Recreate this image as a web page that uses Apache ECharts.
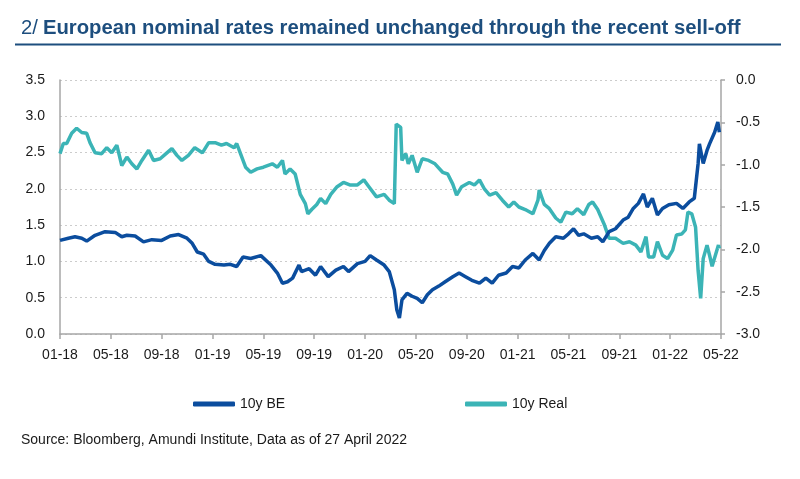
<!DOCTYPE html>
<html>
<head>
<meta charset="utf-8">
<script src="https://cdn.jsdelivr.net/npm/echarts@6/dist/echarts.min.js"></script>
<style>
html,body{margin:0;padding:0;background:#fff;}
#chart{width:800px;height:479px;}
</style>
</head>
<body>
<div id="chart"></div>
<script>
// x values = months since Jan 2018
var xTickLabels = ['01-18','05-18','09-18','01-19','05-19','09-19','01-20','05-20','09-20','01-21','05-21','09-21','01-22','05-22'];

var beMonths = [0,0.66,1.18,1.71,2.1,2.76,3.55,4.34,4.86,5.26,5.91,6.57,7.23,8.0,8.67,9.33,9.99,10.4,10.8,11.3,11.7,12.2,12.9,13.4,13.9,14.4,15.0,15.8,16.6,17.1,17.5,17.9,18.3,18.8,19.0,19.6,20.1,20.5,21.1,21.7,22.3,22.7,23.4,24.0,24.4,24.9,25.5,25.9,26.3,26.5,26.7,26.9,27.3,27.7,28.1,28.5,28.9,29.3,29.8,30.3,30.9,31.4,31.9,32.4,33.0,33.5,34.0,34.5,35.1,35.6,36.1,36.6,37.2,37.7,38.1,38.5,39.0,39.6,40.0,40.4,40.8,41.2,41.8,42.3,42.7,43.2,43.7,44.3,44.7,45.1,45.5,45.9,46.2,46.6,47.0,47.4,47.9,48.5,49.0,49.5,49.9,50.2,50.3,50.6,50.9,51.1,51.5,51.75,51.87];
var beValues = [1.29,1.32,1.34,1.32,1.28,1.36,1.41,1.40,1.34,1.36,1.35,1.27,1.30,1.29,1.35,1.37,1.32,1.25,1.13,1.10,1.00,0.96,0.95,0.96,0.93,1.06,1.04,1.08,0.95,0.84,0.70,0.72,0.77,0.95,0.86,0.90,0.81,0.93,0.79,0.88,0.93,0.86,0.97,1.00,1.08,1.02,0.95,0.86,0.61,0.33,0.22,0.47,0.56,0.52,0.49,0.43,0.54,0.61,0.66,0.72,0.79,0.84,0.79,0.74,0.70,0.77,0.70,0.81,0.84,0.93,0.91,1.02,1.11,1.02,1.15,1.25,1.34,1.32,1.38,1.45,1.36,1.38,1.32,1.34,1.27,1.41,1.45,1.57,1.61,1.73,1.80,1.93,1.75,1.87,1.64,1.73,1.78,1.80,1.73,1.82,1.87,2.35,2.62,2.35,2.53,2.62,2.78,2.92,2.78];

var realMonths = [0,0.26,0.53,0.92,1.31,1.71,2.1,2.36,2.76,3.28,3.68,4.07,4.47,4.86,5.26,5.65,6.05,6.44,6.97,7.36,7.88,8.41,8.8,9.2,9.59,10.1,10.6,11.2,11.7,12.2,12.7,13.1,13.7,13.9,14.2,14.6,15.0,15.5,16.0,16.7,17.1,17.5,17.7,18.1,18.5,18.9,19.3,19.5,19.8,20.2,20.5,20.9,21.3,21.8,22.3,22.8,23.4,23.9,24.3,24.9,25.5,25.9,26.3,26.45,26.8,26.9,27.2,27.4,27.7,28.1,28.5,29.0,29.5,30.1,30.5,30.9,31.2,31.6,32.2,32.6,33.0,33.4,33.8,34.3,34.8,35.3,35.7,36.1,36.6,37.2,37.6,37.7,38.1,38.5,39.0,39.4,39.8,40.3,40.7,41.2,41.6,41.9,42.3,42.8,43.2,43.7,44.3,44.8,45.3,45.7,46.1,46.3,46.7,47.0,47.4,47.8,48.2,48.5,48.9,49.2,49.4,49.7,50.0,50.2,50.4,50.6,50.9,51.1,51.3,51.6,51.8,51.87];
var realValues = [-0.87,-0.75,-0.75,-0.63,-0.57,-0.62,-0.63,-0.74,-0.86,-0.87,-0.80,-0.86,-0.77,-1.01,-0.91,-0.99,-1.05,-0.95,-0.83,-0.95,-0.93,-0.86,-0.81,-0.89,-0.95,-0.89,-0.80,-0.86,-0.74,-0.74,-0.77,-0.75,-0.80,-0.75,-0.87,-1.03,-1.09,-1.05,-1.03,-0.99,-1.03,-0.95,-1.11,-1.05,-1.11,-1.35,-1.46,-1.58,-1.53,-1.47,-1.40,-1.46,-1.35,-1.26,-1.21,-1.24,-1.24,-1.18,-1.26,-1.38,-1.35,-1.42,-1.46,-0.52,-0.56,-0.95,-0.87,-0.99,-0.89,-1.09,-0.93,-0.95,-0.99,-1.09,-1.11,-1.23,-1.36,-1.26,-1.21,-1.24,-1.18,-1.29,-1.36,-1.33,-1.42,-1.50,-1.44,-1.50,-1.53,-1.58,-1.42,-1.30,-1.47,-1.52,-1.63,-1.68,-1.56,-1.58,-1.52,-1.59,-1.47,-1.44,-1.53,-1.70,-1.87,-1.87,-1.93,-1.91,-1.95,-2.03,-1.85,-2.09,-2.09,-1.91,-2.07,-2.11,-2.01,-1.83,-1.82,-1.77,-1.56,-1.58,-1.74,-2.25,-2.58,-2.11,-1.95,-2.07,-2.20,-2.05,-1.95,-1.99];

var seriesNames = ['10y BE','10y Real'];
var titlePrefix = '2/';
var titleText = 'European nominal rates remained unchanged through the recent sell-off';
var sourceText = 'Source: Bloomberg, Amundi Institute, Data as of 27 April 2022';

function zip(a,b){ return a.map(function(v,i){ return [v,b[i]]; }); }

var FONT = '"Liberation Sans", Arial, sans-serif';
var BLUE = '#0b4d9e';
var TEAL = '#3bb4b6';
var NAVY = '#1d4e7e';

var chart = echarts.init(document.getElementById('chart'), null, {renderer:'canvas'});
chart.setOption({
  backgroundColor:'#ffffff',
  animation:false,
  title:{
    left:16, top:13,
    text:'{a|' + titlePrefix + '} {b|' + titleText + '}',
    textStyle:{
      rich:{
        a:{fontFamily:FONT, fontSize:20.3, fontWeight:'normal', color:NAVY},
        b:{fontFamily:FONT, fontSize:20.3, fontWeight:'bold', color:NAVY}
      }
    }
  },
  graphic:[
    {type:'line', shape:{x1:15, y1:44.5, x2:781, y2:44.5}, style:{stroke:NAVY, lineWidth:2}},
    {type:'text', left:21, top:433, style:{text:sourceText, font:'14px ' + FONT, fill:'#1a1a1a'}}
  ],
  legend:[
    {data:[seriesNames[0]], left:188, top:392, icon:'roundRect', itemWidth:42, itemHeight:5, itemGap:5,
     textStyle:{fontFamily:FONT, fontSize:14, color:'#1a1a1a'}},
    {data:[seriesNames[1]], left:460, top:392, icon:'roundRect', itemWidth:42, itemHeight:5, itemGap:5,
     textStyle:{fontFamily:FONT, fontSize:14, color:'#1a1a1a'}}
  ],
  grid:{left:60, right:79, top:80, bottom:145, containLabel:false},
  xAxis:{
    type:'value', min:0, max:52, interval:4,
    axisLine:{show:true, lineStyle:{color:'#a6a6a6', width:1.5}},
    axisTick:{show:true, length:5, lineStyle:{color:'#a6a6a6', width:1.5}},
    splitLine:{show:false},
    axisLabel:{
      margin:14, fontFamily:FONT, fontSize:14, color:'#1a1a1a',
      formatter:function(v){ return xTickLabels[Math.round(v/4)] || ''; }
    }
  },
  yAxis:[
    {type:'value', min:0, max:3.5, interval:0.5, position:'left',
     axisLine:{show:true, lineStyle:{color:'#a6a6a6', width:1.5}},
     axisTick:{show:false},
     splitLine:{show:true, lineStyle:{color:'#cccccc', type:[2,3], width:1}},
     axisLabel:{margin:15, fontFamily:FONT, fontSize:14, color:'#1a1a1a',
       formatter:function(v){ return v.toFixed(1); }}},
    {type:'value', min:-3, max:0, interval:0.5, position:'right',
     axisLine:{show:true, lineStyle:{color:'#a6a6a6', width:1.5}},
     axisTick:{show:true, length:4, lineStyle:{color:'#a6a6a6', width:1.5}},
     splitLine:{show:false},
     axisLabel:{margin:15, fontFamily:FONT, fontSize:14, color:'#1a1a1a',
       formatter:function(v){ return v.toFixed(1); }}}
  ],
  series:[
    {name:seriesNames[1], type:'line', yAxisIndex:1, data:zip(realMonths, realValues),
     showSymbol:false, symbol:'none', lineStyle:{color:TEAL, width:3.5}, itemStyle:{color:TEAL}, z:2},
    {name:seriesNames[0], type:'line', yAxisIndex:0, data:zip(beMonths, beValues),
     showSymbol:false, symbol:'none', lineStyle:{color:BLUE, width:3.5}, itemStyle:{color:BLUE}, z:3}
  ]
});
</script>
</body>
</html>
